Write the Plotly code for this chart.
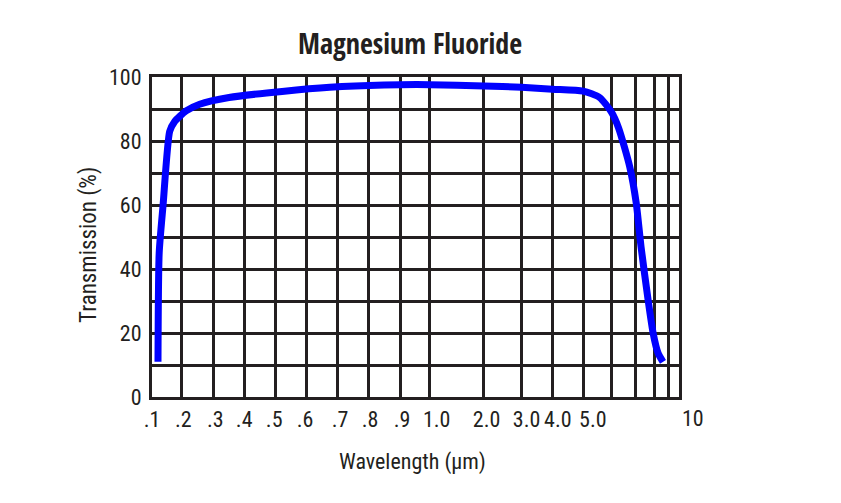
import numpy as np
import plotly.graph_objects as go

# Custom (hand-drawn) wavelength scale of the original chart: grid wavelengths and their positions
GRID_WL = [0.1, 0.2, 0.3, 0.4, 0.5, 0.6, 0.7, 0.8, 0.9, 1.0, 2.0, 3.0, 4.0, 5.0, 6.0, 7.0, 8.0, 9.0, 10.0]
GRID_POS = [151.7, 181.7, 213.3, 244.3, 275.7, 306.7, 337.3, 368.3, 400.0, 430.0,
            484.0, 521.7, 552.7, 583.3, 611.7, 635.7, 654.3, 668.3, 679.3]

# Tick labels (position at which each label sits on the custom scale)
TICK_LABEL_POS = [151.7, 183, 215, 244, 274, 305, 340, 370, 402, 436.7, 486.7, 526.7, 558, 593]
TICK_TEXT = [".1", ".2", ".3", ".4", ".5", ".6", ".7", ".8", ".9", "1.0", "2.0", "3.0", "4.0", "5.0"]
LAST_TICK_POS = 693
LAST_TICK_TEXT = "10"
Y_TICKS = [0, 10, 20, 30, 40, 50, 60, 70, 80, 90, 100]
Y_TICK_TEXT = ["0", "", "20", "", "40", "", "60", "", "80", "", "100"]

# Transmission curve
wavelength = [0.120, 0.124, 0.137, 0.159, 0.175, 0.213, 0.256, 0.35, 0.52, 0.675, 0.85, 1.0,
              2.0, 3.0, 4.0, 5.0, 5.58, 6.0, 6.3, 6.76, 7.04, 7.3, 7.68, 7.95, 8.29, 8.64]
transmission = [11, 45, 60, 83, 86, 89.4, 91.5, 93.6, 95.5, 96.8, 97.5, 97.6,
                97.2, 96.8, 96.2, 95.6, 93.6, 89, 84, 72, 60.7, 47, 30.4, 20, 13.7, 11]


def wl_to_axis(w):
    return np.interp(np.asarray(w, dtype=float), GRID_WL, GRID_POS)


FONT = "Roboto Condensed, DejaVu Sans Condensed, sans-serif"
TITLE_FONT = "Open Sans Condensed, Roboto Condensed, sans-serif"
INK = "#231f20"
PAGE_OFFSET = 8  # default body margin of the html page

fig = go.Figure()
fig.add_trace(go.Scatter(
    x=wl_to_axis(wavelength), y=transmission, mode="lines",
    line=dict(color="#0000ff", width=7, shape="spline", smoothing=0.6),
    hoverinfo="skip", showlegend=False,
))

x0, x1 = GRID_POS[0], GRID_POS[-1]

fig.update_layout(
    width=841, height=503, autosize=False,
    margin=dict(l=152 - PAGE_OFFSET, r=841 + PAGE_OFFSET - 679,
                t=77 - PAGE_OFFSET, b=503 + PAGE_OFFSET - 397),
    paper_bgcolor="white", plot_bgcolor="white",
    font=dict(family=FONT, color=INK, size=22),
    title=dict(text="<b>Magnesium Fluoride</b>", x=(410 - PAGE_OFFSET) / 841, xanchor="center",
               y=1 - (44 - PAGE_OFFSET) / 503, yanchor="middle", yref="container",
               font=dict(family=TITLE_FONT, size=28, color=INK)),
    xaxis=dict(
        range=[x0, x1],
        tickmode="array", tickvals=TICK_LABEL_POS, ticktext=TICK_TEXT,
        showgrid=False, ticks="", zeroline=False,
        showline=True, mirror=True, linecolor=INK, linewidth=3,
        minor=dict(tickmode="array", tickvals=GRID_POS, showgrid=True,
                   gridcolor=INK, gridwidth=3, ticks=""),
        tickfont=dict(size=22), ticklabelstandoff=1,
    ),
    yaxis=dict(
        range=[0, 100],
        tickmode="array", tickvals=Y_TICKS, ticktext=Y_TICK_TEXT,
        showgrid=True, gridcolor=INK, gridwidth=3, ticks="", zeroline=False,
        showline=True, mirror=True, linecolor=INK, linewidth=3,
        tickfont=dict(size=22), ticklabelstandoff=3,
    ),
    annotations=[
        dict(text=LAST_TICK_TEXT, x=(LAST_TICK_POS - x0) / (x1 - x0), y=0, xref="paper", yref="paper",
             yshift=-21, showarrow=False, font=dict(size=22, color=INK),
             xanchor="center", yanchor="middle"),
        dict(text="Wavelength (μm)", x=(412 - x0) / (x1 - x0), xref="paper", y=0, yref="paper",
             yshift=-65, showarrow=False, font=dict(size=22, color=INK),
             xanchor="center", yanchor="middle"),
        dict(text="Transmission (%)", x=0, xref="paper", xshift=-64, y=0.5, yref="paper",
             yshift=-8, textangle=-90, showarrow=False, font=dict(size=23, color=INK),
             xanchor="center", yanchor="middle"),
    ],
)

fig.write_html("out.html")
